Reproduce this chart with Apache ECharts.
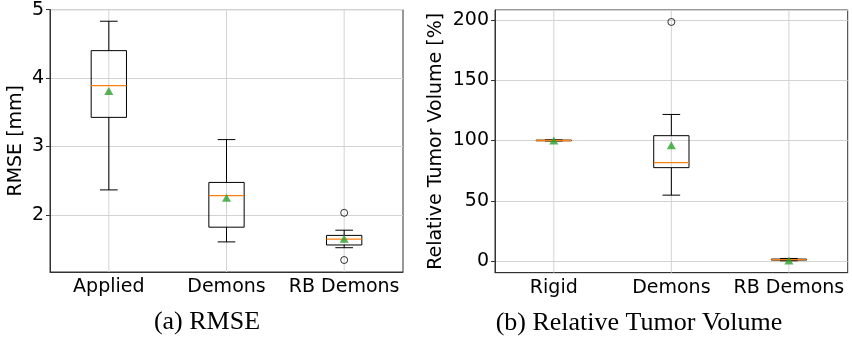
<!DOCTYPE html>
<html>
<head>
<meta charset="utf-8">
<script src="https://cdn.jsdelivr.net/npm/echarts@6/dist/echarts.min.js"></script>
<style>html,body{margin:0;padding:0;background:#fff}#c{width:852px;height:339px}</style>
</head>
<body>
<div id="c"></div>
<script>
// ---- data ----
const catsA = ['Applied', 'Demons', 'RB Demons'];
// [whiskerLow, Q1, median, Q3, whiskerHigh]
const boxA = [
  [2.365, 3.425, 3.89, 4.40, 4.83],
  [1.605, 1.82, 2.28, 2.474, 3.10],
  [1.52, 1.56, 1.645, 1.70, 1.776]
];
const meanA = [3.81, 2.25, 1.65];
const outA = [[2, 2.03], [2, 1.34]];

const catsB = ['Rigid', 'Demons', 'RB Demons'];
const boxB = [
  [99.6, 99.8, 100.0, 100.3, 100.6],
  [54.7, 77.5, 81.7, 104.0, 121.6],
  [0.3, 0.9, 1.2, 1.7, 2.2]
];
const meanB = [100.0, 96.0, 0.5];
const outB = [[1, 198.3]];

const yLimA = [1.165, 5];
const yLimB = [-9.6, 208.2];

// ---- styling ----
const FONT = 'DejaVu Sans';
const GRID = '#d3d3d3';
const AX = '#333';

function renderBox(params, api) {
  const i = api.value(0);
  const lo = api.coord([i, api.value(1)]);
  const q1 = api.coord([i, api.value(2)]);
  const md = api.coord([i, api.value(3)]);
  const q3 = api.coord([i, api.value(4)]);
  const hi = api.coord([i, api.value(5)]);
  const band = api.size([1, 0])[0];
  const x = lo[0];
  const hw = band * 0.15;
  const cw = band * 0.075;
  const ls = { stroke: '#000', lineWidth: 1, fill: null };
  const top = params.coordSys.y, bot = params.coordSys.y + params.coordSys.height;
  return {
    type: 'group',
    children: [
      { type: 'line', shape: { x1: x, y1: top, x2: x, y2: bot }, style: { stroke: GRID, lineWidth: 1 }, z2: 0 },
      { type: 'line', shape: { x1: x, y1: q3[1], x2: x, y2: hi[1] }, style: ls, z2: 2 },
      { type: 'line', shape: { x1: x, y1: q1[1], x2: x, y2: lo[1] }, style: ls, z2: 2 },
      { type: 'line', shape: { x1: x - cw, y1: hi[1], x2: x + cw, y2: hi[1] }, style: ls, z2: 2 },
      { type: 'line', shape: { x1: x - cw, y1: lo[1], x2: x + cw, y2: lo[1] }, style: ls, z2: 2 },
      { type: 'rect', shape: { x: x - hw, y: q3[1], width: 2 * hw, height: q1[1] - q3[1] }, style: { stroke: '#000', lineWidth: 1, fill: 'rgba(0,0,0,0)' }, z2: 2 },
      { type: 'line', shape: { x1: x - hw, y1: md[1], x2: x + hw, y2: md[1] }, style: { stroke: '#ff7f0e', lineWidth: 1.3 }, z2: 3 }
    ]
  };
}

function xAxisOpt(cats, gi) {
  return {
    type: 'category', gridIndex: gi, data: cats, boundaryGap: true,
    axisLine: { onZero: false, lineStyle: { color: AX, width: 1 } },
    axisTick: { alignWithLabel: true, interval: 0, length: 4, lineStyle: { color: AX } },
    axisLabel: { interval: 0, fontFamily: FONT, fontSize: 19, color: '#000', margin: 6 },
    splitLine: { show: false }
  };
}
function yAxisOpt(lim, gi, name, gap) {
  return {
    type: 'value', gridIndex: gi, min: lim[0], max: lim[1], splitNumber: 4,
    name: name, nameLocation: 'middle', nameGap: gap,
    nameTextStyle: { fontFamily: FONT, fontSize: 19, color: '#000' },
    axisLine: { show: true, onZero: false, lineStyle: { color: AX, width: 1 } },
    axisTick: { show: true, length: 4, lineStyle: { color: AX } },
    axisLabel: { fontFamily: FONT, fontSize: 19, color: '#000', margin: 6, showMinLabel: false, showMaxLabel: lim[1] === 5 },
    splitLine: { show: true, lineStyle: { color: GRID, width: 1 } }
  };
}

const chart = echarts.init(document.getElementById('c'), null, { renderer: 'canvas' });
chart.setOption({
  animation: false,
  backgroundColor: '#fff',
  grid: [
    { left: 50, top: 9.6, width: 353, height: 262.4, show: true, borderColor: AX, borderWidth: 1, backgroundColor: 'transparent' },
    { left: 495, top: 10, width: 352.7, height: 262.7, show: true, borderColor: AX, borderWidth: 1, backgroundColor: 'transparent' }
  ],
  xAxis: [xAxisOpt(catsA, 0), xAxisOpt(catsB, 1)],
  yAxis: [yAxisOpt(yLimA, 0, 'RMSE [mm]', 24), yAxisOpt(yLimB, 1, 'Relative Tumor Volume [%]', 49)],
  series: [
    { type: 'custom', xAxisIndex: 0, yAxisIndex: 0, renderItem: renderBox,
      data: boxA.map((b, i) => [i].concat(b)), encode: { x: 0, y: [1, 2, 3, 4, 5] } },
    { type: 'custom', xAxisIndex: 1, yAxisIndex: 1, renderItem: renderBox,
      data: boxB.map((b, i) => [i].concat(b)), encode: { x: 0, y: [1, 2, 3, 4, 5] } },
    { type: 'scatter', xAxisIndex: 0, yAxisIndex: 0, symbol: 'triangle', symbolSize: [9, 8], z: 5,
      itemStyle: { color: '#2ca02c' }, data: meanA.map((m, i) => [i, m]) },
    { type: 'scatter', xAxisIndex: 1, yAxisIndex: 1, symbol: 'triangle', symbolSize: [9, 8], z: 5,
      itemStyle: { color: '#2ca02c' }, data: meanB.map((m, i) => [i, m]) },
    { type: 'scatter', xAxisIndex: 0, yAxisIndex: 0, symbol: 'circle', symbolSize: 7, z: 5,
      itemStyle: { color: 'rgba(0,0,0,0)', borderColor: '#000', borderWidth: 1 }, data: outA },
    { type: 'scatter', xAxisIndex: 1, yAxisIndex: 1, symbol: 'circle', symbolSize: 7, z: 5,
      itemStyle: { color: 'rgba(0,0,0,0)', borderColor: '#000', borderWidth: 1 }, data: outB }
  ],
  graphic: [
    { type: 'text', x: 207, y: 322, style: { text: '(a) RMSE', font: '26px "Liberation Serif"', fill: '#000', textAlign: 'center', textVerticalAlign: 'middle' } },
    { type: 'text', x: 639, y: 323, style: { text: '(b) Relative Tumor Volume', font: '26px "Liberation Serif"', fill: '#000', textAlign: 'center', textVerticalAlign: 'middle' } }
  ]
});
</script>
</body>
</html>
